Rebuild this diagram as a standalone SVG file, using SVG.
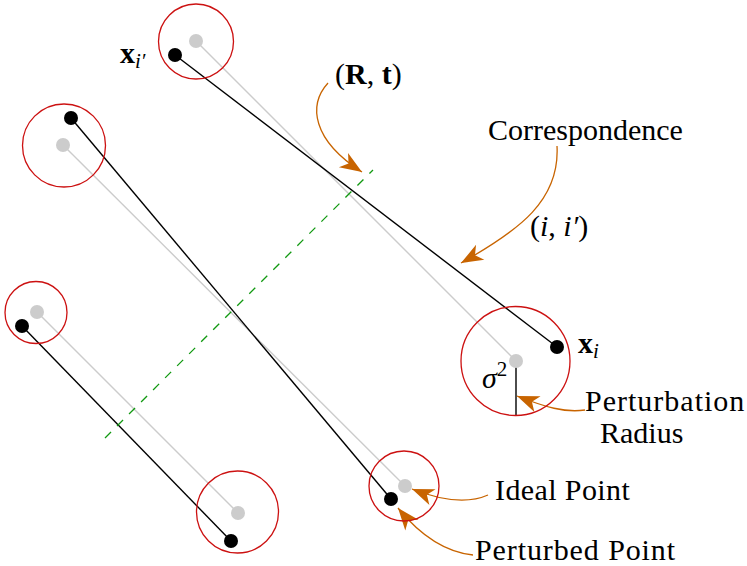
<svg xmlns="http://www.w3.org/2000/svg" width="747" height="566" viewBox="0 0 747 566">
<style>
  .ring{fill:none;stroke:#cc1111;stroke-width:1.3}
  .ideal{fill:#cccccc}
  .pert{fill:#000}
  .gl{stroke:#cccccc;stroke-width:1.4;fill:none}
  .bl{stroke:#000;stroke-width:1.4;fill:none}
  .arr{stroke:#c86400;stroke-width:1.3;fill:none;marker-end:url(#ah)}
  .m{font-style:italic}
  .b{font-weight:bold}
</style>
<defs>
  <marker id="ah" markerUnits="userSpaceOnUse" viewBox="-24 -10 26 20" refX="0" refY="0" markerWidth="26" markerHeight="20" orient="auto">
    <path d="M0,0 L-22,-8.5 L-16,0 L-22,8.5 Z" fill="#c86400"/>
  </marker>
</defs>
<rect width="747" height="566" fill="#fff"/>

<g id="connectors">
  <g id="ideal-lines">
    <line class="gl" x1="196" y1="41" x2="516" y2="361"/>
    <line class="gl" x1="63" y1="145" x2="405" y2="486"/>
    <line class="gl" x1="37" y1="312" x2="238" y2="513"/>
  </g>
  <g id="perturbed-lines">
    <line class="bl" x1="175" y1="55" x2="557" y2="347"/>
    <line class="bl" x1="71" y1="118" x2="391" y2="499"/>
    <line class="bl" x1="22" y1="326" x2="231" y2="541"/>
  </g>
  <line id="transform-plane" x1="105" y1="438" x2="373" y2="170" stroke="#119911" stroke-width="1.3" stroke-dasharray="8.5 8.5"/>
  <line id="radius" x1="516" y1="361" x2="516" y2="416" stroke="#000" stroke-width="1.4"/>
  <path class="arr" d="M328,83 C308,105 312,140 362,172"/>
  <path class="arr" d="M557,146 C560,200 520,230 461,263"/>
  <path class="arr" d="M585,410 C565,413 545,407 517,396"/>
  <path class="arr" d="M488,495 C470,503 445,502 412,489"/>
  <path class="arr" d="M473,555 C445,552 420,535 398,508"/>
</g>

<g id="node-top">
  <circle class="ring" cx="196" cy="41.5" r="37.5"/>
  <circle class="ideal" cx="196" cy="41" r="7"/>
  <circle class="pert" cx="175" cy="55" r="7"/>
</g>
<g id="node-left-top">
  <circle class="ring" cx="64" cy="145.5" r="41.5"/>
  <circle class="ideal" cx="63" cy="145" r="7"/>
  <circle class="pert" cx="71" cy="118" r="7"/>
</g>
<g id="node-left-bottom">
  <circle class="ring" cx="36" cy="312.5" r="31"/>
  <circle class="ideal" cx="37" cy="312" r="7"/>
  <circle class="pert" cx="22" cy="326" r="7"/>
</g>
<g id="node-bottom">
  <circle class="ring" cx="237.5" cy="512" r="41"/>
  <circle class="ideal" cx="238" cy="513" r="7"/>
  <circle class="pert" cx="231" cy="541" r="7"/>
</g>
<g id="node-bottom-mid">
  <circle class="ring" cx="404" cy="486" r="35"/>
  <circle class="ideal" cx="405" cy="486" r="7"/>
  <circle class="pert" cx="391" cy="499" r="7"/>
</g>
<g id="node-right">
  <circle class="ring" cx="515.5" cy="361" r="54.5"/>
  <circle class="ideal" cx="516" cy="361" r="7"/>
  <circle class="pert" cx="557" cy="347" r="7"/>
</g>

<g id="labels" font-family="'Liberation Serif', 'Times New Roman', 'DejaVu Serif', serif" font-size="30" fill="#000">
  <text x="120" y="63"><tspan class="b">x</tspan><tspan class="m" font-size="21" dy="5">i′</tspan></text>
  <text x="578" y="353"><tspan class="b">x</tspan><tspan class="m" font-size="21" dy="5">i</tspan></text>
  <text x="482" y="388"><tspan class="m">σ</tspan><tspan font-size="21" dy="-12">2</tspan></text>
  <text x="335" y="84">(<tspan class="b">R</tspan>, <tspan class="b">t</tspan>)</text>
  <text x="488" y="140">Correspondence</text>
  <text x="530" y="236">(<tspan class="m">i</tspan>, <tspan class="m">i′</tspan>)</text>
  <text x="585" y="411" letter-spacing="1">Perturbation</text>
  <text x="600" y="443">Radius</text>
  <text x="495" y="500" letter-spacing="0.4">Ideal Point</text>
  <text x="475" y="560" letter-spacing="0.9">Perturbed Point</text>
</g>
</svg>
